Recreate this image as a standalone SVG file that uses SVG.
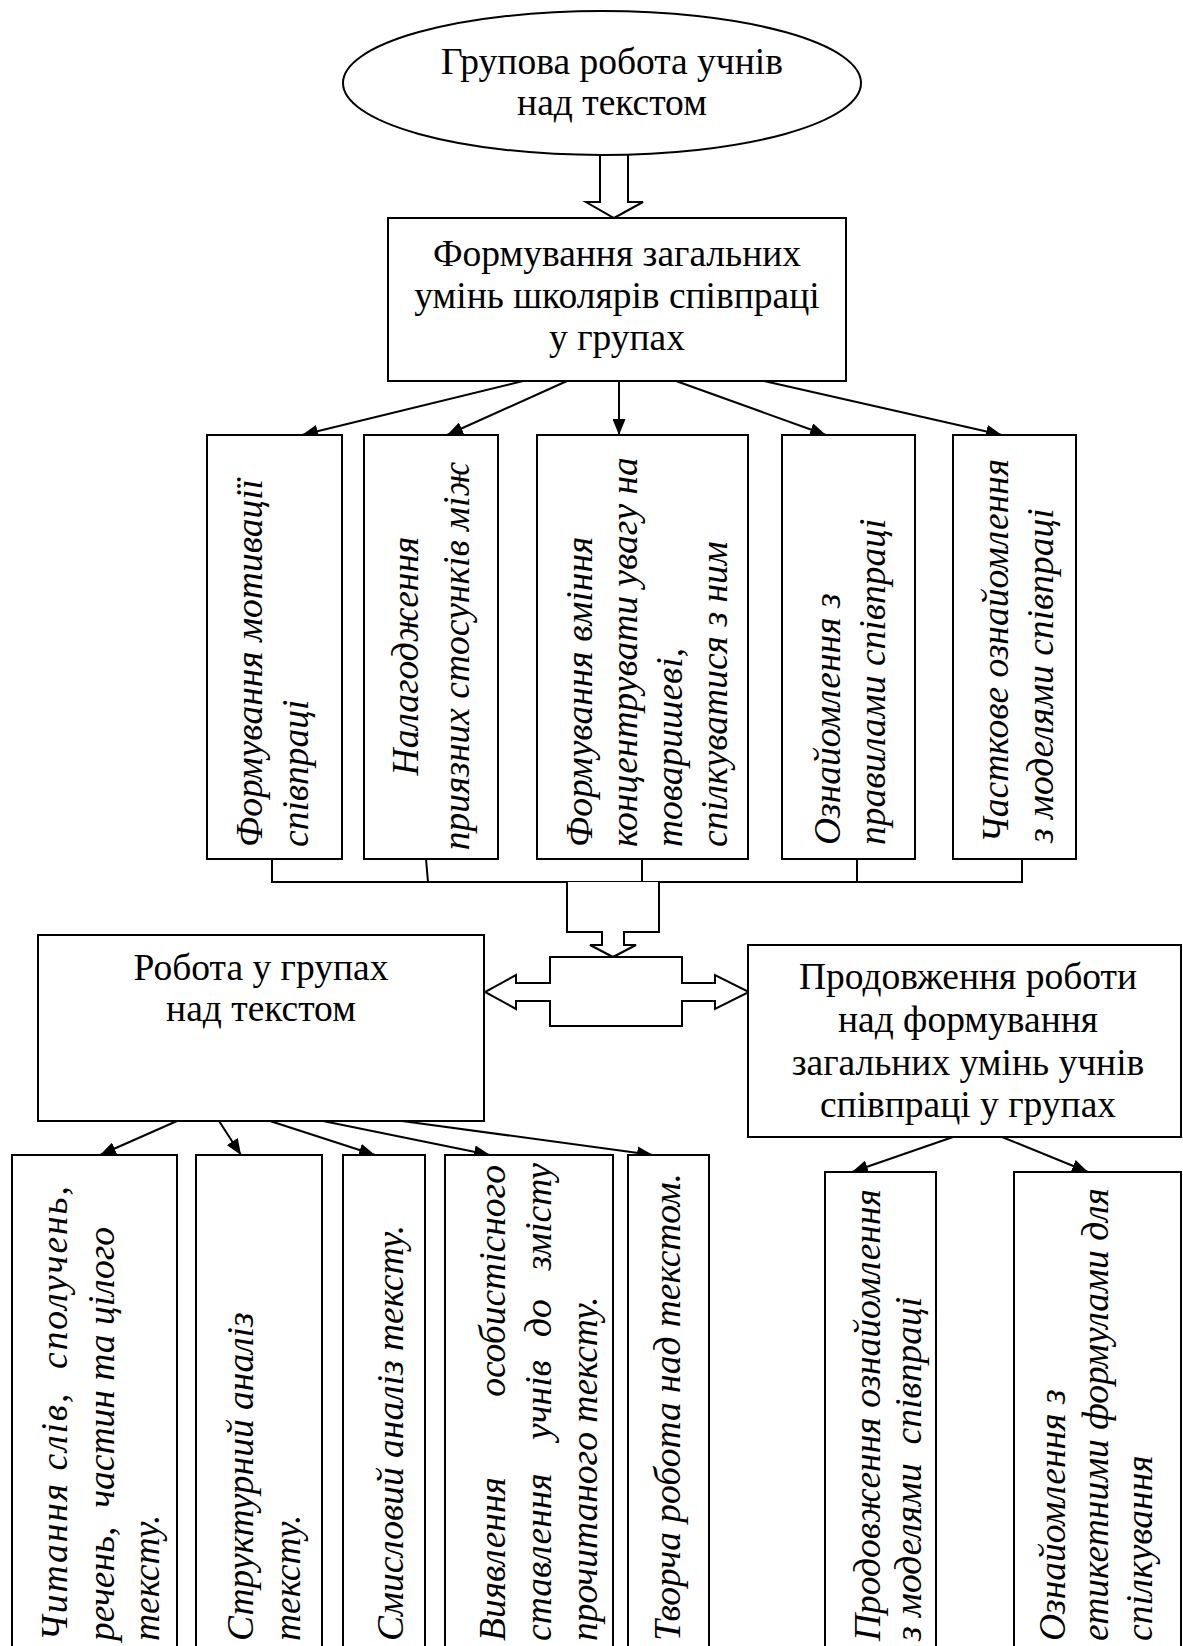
<svg xmlns="http://www.w3.org/2000/svg" width="1183" height="1646" viewBox="0 0 1183 1646">
<defs>
<marker id="ah" markerUnits="userSpaceOnUse" markerWidth="17" markerHeight="13" refX="16" refY="6.5" orient="auto"><path d="M0,0 L16,6.5 L0,13 z" fill="#000"/></marker>
</defs>
<style>
.box{fill:#fff;stroke:#000;stroke-width:2}
.ln{fill:none;stroke:#000;stroke-width:2}
.ar{fill:none;stroke:#000;stroke-width:2;marker-end:url(#ah)}
.hollow{fill:#fff;stroke:#000;stroke-width:2}
.t{font-family:"Liberation Serif","Times New Roman",serif;font-size:37.5px;fill:#000;text-anchor:middle}
.v{font-family:"Liberation Serif","Times New Roman",serif;font-size:37.5px;font-style:italic;fill:#000}
</style>
<rect width="1183" height="1646" fill="#fff"/>
<g id="connectors">
<path class="hollow" d="M600,150 V202 H586 L614,218 L643,202 H628 V150"/>
<line class="ar" x1="523" y1="381" x2="302" y2="435"/>
<line class="ar" x1="567" y1="381" x2="447" y2="435"/>
<line class="ar" x1="619" y1="381" x2="619" y2="435"/>
<line class="ar" x1="676" y1="381" x2="826" y2="435"/>
<line class="ar" x1="764" y1="381" x2="1002" y2="435"/>
<path class="ln" d="M272,859 V882 M426,859 L428,882 M642,859 V882 M857,859 V882 M1022,859 V882 M271,882 H1023"/>
<path class="hollow" d="M567,882 V932 H602 V945 H590 L613,957 L636,945 H624 V932 H659 V882"/>
<path class="hollow" d="M550,957 H682 V983 H715 V975 L749,992 L715,1009 V1001 H682 V1026 H550 V1001 H516 V1009 L485,992 L516,975 V983 H550 Z"/>
<line class="ar" x1="177" y1="1121" x2="100" y2="1155"/>
<line class="ar" x1="219" y1="1121" x2="241" y2="1155"/>
<line class="ar" x1="270" y1="1121" x2="375" y2="1155"/>
<line class="ar" x1="323" y1="1121" x2="490" y2="1155"/>
<line class="ar" x1="402" y1="1121" x2="653" y2="1155"/>
<line class="ar" x1="953" y1="1137" x2="852" y2="1172"/>
<line class="ar" x1="1002" y1="1137" x2="1088" y2="1172"/>
</g>
<g id="n-start">
<ellipse class="box" cx="602" cy="83" rx="259" ry="72"/>
<text class="t" x="612" y="74">Групова робота учнів</text>
<text class="t" x="612" y="115">над текстом</text>
</g>
<g id="n-formation">
<rect class="box" x="388" y="218" width="458" height="163"/>
<text class="t" x="617" y="266">Формування загальних</text>
<text class="t" x="617" y="308">умінь школярів співпраці</text>
<text class="t" x="617" y="350">у групах</text>
</g>
<g id="n-motivation">
<rect class="box" x="207" y="435" width="135" height="424"/>
<text class="v" transform="translate(262,0) rotate(-90)" x="-847">Формування мотивації</text>
<text class="v" transform="translate(308,0) rotate(-90)" x="-847">співпраці</text>
</g>
<g id="n-relations">
<rect class="box" x="364" y="435" width="134" height="424"/>
<text class="v" transform="translate(418,0) rotate(-90)" x="-656" text-anchor="middle">Налагодження</text>
<text class="v" transform="translate(469,0) rotate(-90)" x="-656" text-anchor="middle">приязних стосунків між</text>
</g>
<g id="n-attention">
<rect class="box" x="537" y="435" width="211" height="424"/>
<text class="v" transform="translate(592,0) rotate(-90)" x="-847">Формування вміння</text>
<text class="v" transform="translate(637,0) rotate(-90)" x="-847">концентрувати увагу на</text>
<text class="v" transform="translate(682,0) rotate(-90)" x="-847">товаришеві,</text>
<text class="v" transform="translate(727,0) rotate(-90)" x="-847">спілкуватися з ним</text>
</g>
<g id="n-rules">
<rect class="box" x="782" y="435" width="133" height="424"/>
<text class="v" transform="translate(840,0) rotate(-90)" x="-845">Ознайомлення з</text>
<text class="v" transform="translate(885,0) rotate(-90)" x="-845">правилами співпраці</text>
</g>
<g id="n-models">
<rect class="box" x="953" y="435" width="123" height="424"/>
<text class="v" transform="translate(1008,0) rotate(-90)" x="-843">Часткове ознайомлення</text>
<text class="v" transform="translate(1053,0) rotate(-90)" x="-843">з моделями співпраці</text>
</g>
<g id="n-groupwork">
<rect class="box" x="38" y="935" width="446" height="186"/>
<text class="t" x="261" y="980">Робота у групах</text>
<text class="t" x="261" y="1021">над текстом</text>
</g>
<g id="n-continue">
<rect class="box" x="748" y="945" width="433" height="192"/>
<text class="t" x="968" y="989">Продовження роботи</text>
<text class="t" x="968" y="1032">над формування</text>
<text class="t" x="968" y="1075">загальних умінь учнів</text>
<text class="t" x="968" y="1117">співпраці у групах</text>
</g>
<g id="n-reading">
<path class="box" d="M12,1650 V1155 H177 V1650"/>
<text class="v" transform="translate(67,0) rotate(-90)" x="-1641" textLength="455" lengthAdjust="spacing" xml:space="preserve">Читання слів,  сполучень,</text>
<text class="v" transform="translate(114,0) rotate(-90)" x="-1641" xml:space="preserve">речень,  частин та цілого</text>
<text class="v" transform="translate(159,0) rotate(-90)" x="-1641">тексту.</text>
</g>
<g id="n-structural">
<path class="box" d="M196,1650 V1155 H322 V1650"/>
<text class="v" transform="translate(253,0) rotate(-90)" x="-1641">Структурний аналіз</text>
<text class="v" transform="translate(300,0) rotate(-90)" x="-1641">тексту.</text>
</g>
<g id="n-semantic">
<path class="box" d="M343,1650 V1155 H425 V1650"/>
<text class="v" transform="translate(403,0) rotate(-90)" x="-1641">Смисловий аналіз тексту.</text>
</g>
<g id="n-attitude">
<path class="box" d="M445,1650 V1155 H613 V1650"/>
<text class="v" transform="translate(505,0) rotate(-90)" x="-1641">Виявлення</text>
<text class="v" transform="translate(505,0) rotate(-90)" x="-1165" text-anchor="end">особистісного</text>
<text class="v" transform="translate(551,0) rotate(-90)" x="-1641">ставлення</text>
<text class="v" transform="translate(551,0) rotate(-90)" x="-1440">учнів</text>
<text class="v" transform="translate(551,0) rotate(-90)" x="-1337">до</text>
<text class="v" transform="translate(551,0) rotate(-90)" x="-1163" text-anchor="end">змісту</text>
<text class="v" transform="translate(597,0) rotate(-90)" x="-1641">прочитаного тексту.</text>
</g>
<g id="n-creative">
<path class="box" d="M628,1650 V1155 H709 V1650"/>
<text class="v" transform="translate(680,0) rotate(-90)" x="-1641">Творча робота над текстом.</text>
</g>
<g id="n-models2">
<path class="box" d="M825,1650 V1172 H936 V1650"/>
<text class="v" transform="translate(880,0) rotate(-90)" x="-1641">Продовження ознайомлення</text>
<text class="v" transform="translate(921,0) rotate(-90)" x="-1641" xml:space="preserve">з моделями  співпраці</text>
</g>
<g id="n-etiquette">
<path class="box" d="M1014,1650 V1172 H1181 V1650"/>
<text class="v" transform="translate(1065,0) rotate(-90)" x="-1641">Ознайомлення з</text>
<text class="v" transform="translate(1108,0) rotate(-90)" x="-1641">етикетними формулами для</text>
<text class="v" transform="translate(1152,0) rotate(-90)" x="-1641">спілкування</text>
</g>
</svg>
